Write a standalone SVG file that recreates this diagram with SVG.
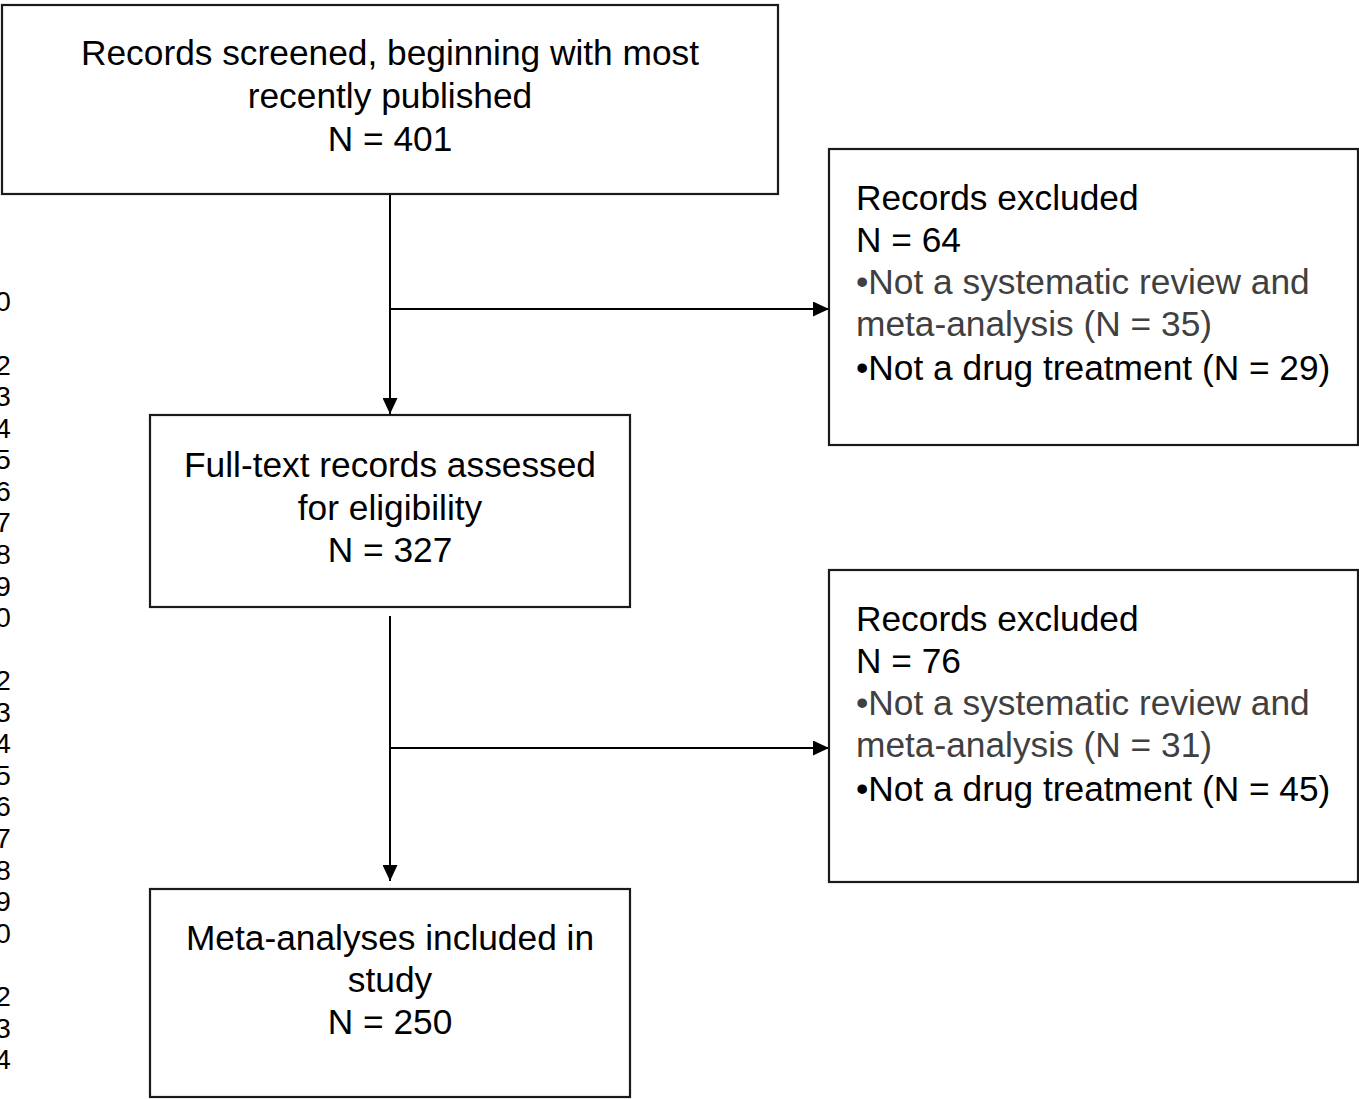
<svg xmlns="http://www.w3.org/2000/svg" width="1359" height="1099" viewBox="0 0 1359 1099">
<style>
  .box { fill: #ffffff; stroke: #1a1a1a; stroke-width: 2.2; }
  .t { font-family: "Liberation Sans", Arial, sans-serif; font-size: 35.3px; fill: #000000; }
  .c { text-anchor: middle; }
  .g { fill: #404040; }
  .conn { stroke: #000000; stroke-width: 2; fill: none; }
  .num { font-family: "Liberation Sans", Arial, sans-serif; font-size: 28px; fill: #000000; text-anchor: middle; }
</style>
<defs>
  <marker id="arrowL" viewBox="0 0 16 15" refX="16" refY="7.5" markerWidth="16" markerHeight="15" markerUnits="userSpaceOnUse" orient="auto">
    <path d="M0,0 L16,7.5 L0,15 Z" fill="#000000"/>
  </marker>
</defs>
<rect width="1359" height="1099" fill="#ffffff"/>

<g id="margin-numbers" class="num">
  <text x="3" y="311">0</text>
  <text x="3" y="375">2</text>
  <text x="3" y="406">3</text>
  <text x="3" y="438">4</text>
  <text x="3" y="469">5</text>
  <text x="3" y="501">6</text>
  <text x="3" y="532">7</text>
  <text x="3" y="564">8</text>
  <text x="3" y="596">9</text>
  <text x="3" y="627">0</text>
  <text x="3" y="690">2</text>
  <text x="3" y="722">3</text>
  <text x="3" y="753">4</text>
  <text x="3" y="785">5</text>
  <text x="3" y="816">6</text>
  <text x="3" y="848">7</text>
  <text x="3" y="880">8</text>
  <text x="3" y="911">9</text>
  <text x="3" y="943">0</text>
  <text x="3" y="1006">2</text>
  <text x="3" y="1038">3</text>
  <text x="3" y="1069">4</text>
</g>

<g id="connectors">
  <line class="conn" x1="390" y1="194" x2="390" y2="414" marker-end="url(#arrowL)"/>
  <line class="conn" x1="390" y1="309" x2="829" y2="309" marker-end="url(#arrowL)"/>
  <line class="conn" x1="390" y1="616" x2="390" y2="881" marker-end="url(#arrowL)"/>
  <line class="conn" x1="390" y1="748" x2="829" y2="748" marker-end="url(#arrowL)"/>
</g>

<g id="records-screened">
  <rect class="box" x="2" y="5" width="776" height="189"/>
  <text class="t c" x="390" y="65">Records screened, beginning with most</text>
  <text class="t c" x="390" y="108">recently published</text>
  <text class="t c" x="390" y="151">N = 401</text>
</g>

<g id="excluded-1">
  <rect class="box" x="829" y="149" width="529" height="296"/>
  <text class="t" x="856" y="210">Records excluded</text>
  <text class="t" x="856" y="252">N = 64</text>
  <text class="t g" x="856" y="294">•Not a systematic review and</text>
  <text class="t g" x="856" y="336">meta-analysis (N = 35)</text>
  <text class="t" x="856" y="380">•Not a drug treatment (N = 29)</text>
</g>

<g id="full-text">
  <rect class="box" x="150" y="415" width="480" height="192"/>
  <text class="t c" x="390" y="477">Full-text records assessed</text>
  <text class="t c" x="390" y="520">for eligibility</text>
  <text class="t c" x="390" y="562">N = 327</text>
</g>

<g id="excluded-2">
  <rect class="box" x="829" y="570" width="529" height="312"/>
  <text class="t" x="856" y="631">Records excluded</text>
  <text class="t" x="856" y="673">N = 76</text>
  <text class="t g" x="856" y="715">•Not a systematic review and</text>
  <text class="t g" x="856" y="757">meta-analysis (N = 31)</text>
  <text class="t" x="856" y="801">•Not a drug treatment (N = 45)</text>
</g>

<g id="included">
  <rect class="box" x="150" y="889" width="480" height="208"/>
  <text class="t c" x="390" y="950">Meta-analyses included in</text>
  <text class="t c" x="390" y="992">study</text>
  <text class="t c" x="390" y="1034">N = 250</text>
</g>
</svg>
